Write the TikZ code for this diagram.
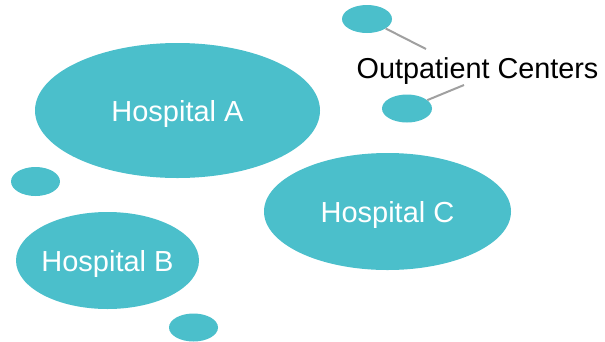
\documentclass[tikz,border=0pt]{standalone}
\usepackage{fontspec}
\setmainfont{Liberation Sans}
\usetikzlibrary{shapes.geometric}
\definecolor{teal1}{HTML}{4BBFCB}
\definecolor{lgray}{HTML}{A0A0A0}
\begin{document}
\begin{tikzpicture}[x=1pt,y=-1pt,
  blob/.style={ellipse, fill=teal1, draw=none, inner sep=0pt},
  lbl/.style={anchor=base, text=white, font=\fontsize{29}{31}\selectfont, inner sep=0pt},
  callout/.style={draw=lgray, line width=2pt}]
\useasboundingbox (0,0) rectangle (605,341);
\clip (0,0) rectangle (605,341);
\node[blob, minimum width=285pt, minimum height=135pt] (ha) at (177.5,110.5) {};
\node[blob, minimum width=247pt, minimum height=117pt] (hc) at (387.5,211.5) {};
\node[blob, minimum width=183pt, minimum height=97pt] (hb) at (107.5,260.5) {};
\node[blob, minimum width=50pt, minimum height=28pt] (s1) at (367,19) {};
\node[blob, minimum width=50pt, minimum height=28pt] (s2) at (407,108.5) {};
\node[blob, minimum width=49pt, minimum height=29pt] (s3) at (35.5,181.5) {};
\node[blob, minimum width=49pt, minimum height=28pt] (s4) at (193.5,327.5) {};
\node[lbl] (ta) at (177.5,121.5) {Hospital A};
\node[lbl] (tc) at (387.5,222.5) {Hospital C};
\node[lbl] (tb) at (107.5,271) {Hospital B};
\node[anchor=base west, inner sep=0pt, font=\fontsize{28.8}{31}\selectfont] (oc) at (356.5,78) {Outpatient Centers};
\coordinate (c1) at (426,49);
\coordinate (c2) at (464,85);
\draw[callout] (s1) -- (c1);
\draw[callout] (s2) -- (c2);
\end{tikzpicture}
\end{document}
